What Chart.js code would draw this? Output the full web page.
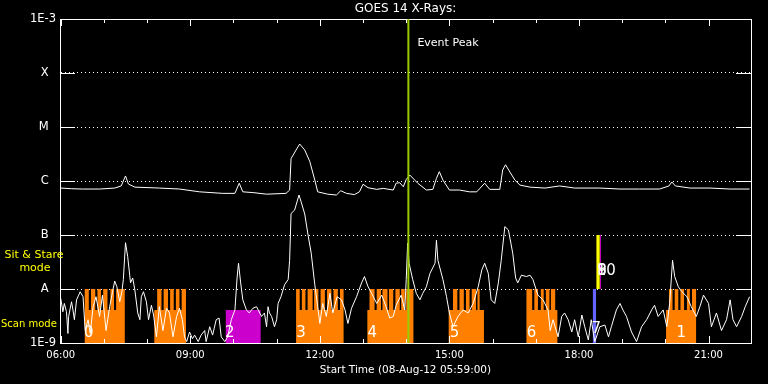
<!DOCTYPE html>
<html>
<head>
<meta charset="utf-8">
<script src="https://cdn.jsdelivr.net/npm/chart.js@4.4.0/dist/chart.umd.min.js"></script>
<style>
  html, body { margin: 0; padding: 0; background: #000; }
  #wrap { width: 768px; height: 384px; }
</style>
</head>
<body>
<div id="wrap"><canvas id="goesChart" width="768" height="384"></canvas></div>
<script>
// axis ranges and tick labels
const xMin = '05:59';
const xMax = '21:59';
const xHourTicks = ['06:00', '07:00', '08:00', '09:00', '10:00', '11:00', '12:00', '13:00',
                    '14:00', '15:00', '16:00', '17:00', '18:00', '19:00', '20:00', '21:00'];
const xTickLabels = ['06:00', '09:00', '12:00', '15:00', '18:00', '21:00'];
const yTickValues = [1e-9, 1e-8, 1e-7, 1e-6, 1e-5, 1e-4, 1e-3];
const yTickLabels = ['1E-9', 'A', 'B', 'C', 'M', 'X', '1E-3'];

// GOES long channel (1-8 A)
const longTimes = ['06:00', '06:15', '06:30', '06:54', '07:15', '07:24', '07:30', '07:34', '07:43', '08:17',
  '08:45', '09:13', '09:45', '10:02', '10:08', '10:13', '10:27', '10:46', '11:13', '11:18',
  '11:20', '11:27', '11:32', '11:39', '11:46', '11:53', '11:57', '12:11', '12:23', '12:29',
  '12:37', '12:48', '12:55', '13:00', '13:07', '13:19', '13:28', '13:42', '13:46', '13:51',
  '13:56', '14:00', '14:05', '14:16', '14:28', '14:37', '14:42', '14:46', '14:51', '15:00',
  '15:14', '15:28', '15:38', '15:49', '15:56', '16:10', '16:14', '16:18', '16:24', '16:31',
  '16:38', '16:52', '17:13', '17:33', '17:54', '18:29', '18:57', '19:24', '19:52', '20:05',
  '20:09', '20:14', '20:34', '21:02', '21:30', '21:57'];
const longFlux = [7.4e-7, 7.2e-7, 7.1e-7, 7.1e-7, 7.4e-7, 8.1e-7, 1.24e-6, 8.8e-7, 7.7e-7, 7.4e-7,
  7.1e-7, 6.3e-7, 5.9e-7, 5.9e-7, 9.1e-7, 6.3e-7, 6.1e-7, 5.7e-7, 5.9e-7, 6.8e-7,
  2.6e-6, 3.75e-6, 4.84e-6, 3.75e-6, 2.3e-6, 1.04e-6, 6.3e-7, 5.7e-7, 5.5e-7, 6.6e-7,
  5.9e-7, 5.6e-7, 6.3e-7, 8.7e-7, 7.5e-7, 7.0e-7, 7.3e-7, 6.8e-7, 9.1e-7, 9.3e-7,
  7.8e-7, 1.07e-6, 1.29e-6, 9.1e-7, 6.8e-7, 7.0e-7, 1.12e-6, 1.49e-6, 1.04e-6, 6.8e-7,
  6.8e-7, 6.3e-7, 6.3e-7, 9.1e-7, 7.0e-7, 7.0e-7, 1.6e-6, 2.0e-6, 1.47e-6, 1.04e-6,
  8.4e-7, 7.7e-7, 7.4e-7, 8.1e-7, 7.4e-7, 7.4e-7, 7.1e-7, 7.1e-7, 7.1e-7, 8.1e-7,
  9.6e-7, 8.1e-7, 7.4e-7, 7.4e-7, 7.1e-7, 7.1e-7];

// GOES short channel (0.5-4 A)
const shortTimes = ['06:00', '06:03', '06:05', '06:08', '06:10', '06:11', '06:15', '06:17', '06:19', '06:22',
  '06:25', '06:27', '06:31', '06:34', '06:38', '06:41', '06:45', '06:49', '06:54', '06:58',
  '07:03', '07:08', '07:12', '07:15', '07:18', '07:22', '07:25', '07:27', '07:30', '07:33',
  '07:37', '07:40', '07:43', '07:47', '07:50', '07:52', '07:55', '07:59', '08:02', '08:06',
  '08:09', '08:13', '08:17', '08:22', '08:27', '08:31', '08:36', '08:41', '08:45', '08:49',
  '08:52', '08:55', '08:59', '09:03', '09:06', '09:11', '09:15', '09:20', '09:22', '09:27',
  '09:31', '09:36', '09:40', '09:43', '09:48', '09:52', '09:57', '10:02', '10:05', '10:07',
  '10:10', '10:13', '10:18', '10:22', '10:27', '10:32', '10:39', '10:43', '10:46', '10:48',
  '10:50', '10:53', '10:57', '11:00', '11:02', '11:06', '11:11', '11:16', '11:18', '11:20',
  '11:25', '11:31', '11:34', '11:39', '11:44', '11:48', '11:53', '11:57', '12:00', '12:04',
  '12:09', '12:14', '12:18', '12:24', '12:30', '12:35', '12:39', '12:44', '12:51', '12:58',
  '13:02', '13:07', '13:12', '13:19', '13:26', '13:32', '13:37', '13:42', '13:46', '13:53',
  '13:58', '14:00', '14:02', '14:04', '14:09', '14:14', '14:19', '14:23', '14:28', '14:33',
  '14:40', '14:42', '14:44', '14:51', '14:56', '15:00', '15:05', '15:12', '15:19', '15:26',
  '15:33', '15:40', '15:45', '15:49', '15:54', '15:58', '16:03', '16:08', '16:12', '16:17',
  '16:22', '16:28', '16:32', '16:35', '16:40', '16:47', '16:52', '16:56', '17:03', '17:10',
  '17:17', '17:20', '17:24', '17:31', '17:36', '17:40', '17:45', '17:50', '17:54', '17:59',
  '18:04', '18:08', '18:13', '18:17', '18:22', '18:29', '18:36', '18:41', '18:45', '18:52',
  '18:57', '19:01', '19:06', '19:13', '19:20', '19:27', '19:34', '19:41', '19:45', '19:50',
  '19:57', '20:02', '20:06', '20:10', '20:13', '20:18', '20:23', '20:30', '20:36', '20:43',
  '20:48', '20:53', '21:00', '21:04', '21:11', '21:18', '21:25', '21:30', '21:34', '21:39',
  '21:46', '21:51', '21:57'];
const shortFlux = [6.7e-9, 3.8e-9, 5.4e-9, 3.8e-9, 1.5e-9, 3.1e-9, 5.8e-9, 4.1e-9, 2.7e-9, 6.3e-9,
  7.7e-9, 8.9e-9, 7.2e-9, 1.7e-9, 2.7e-9, 1.5e-9, 4.7e-9, 7.2e-9, 3.1e-9, 7.7e-9,
  1.7e-9, 4.7e-9, 8.9e-9, 1.4e-8, 1.1e-8, 5.8e-9, 8.9e-9, 1.5e-8, 7.2e-8, 4.0e-8,
  1.3e-8, 1.6e-8, 9.6e-9, 3.6e-9, 2.7e-9, 7.2e-9, 8.9e-9, 5.8e-9, 2.7e-9, 5.0e-9,
  3.3e-9, 1.3e-9, 4.7e-9, 1.7e-9, 4.4e-9, 3.6e-9, 1.3e-9, 3.1e-9, 4.4e-9, 2.7e-9,
  1.3e-9, 1.06e-9, 1.6e-9, 1.2e-9, 1.4e-9, 1.06e-9, 1.4e-9, 1.7e-9, 1.06e-9, 2.0e-9,
  1.4e-9, 2.7e-9, 2.9e-9, 1.3e-9, 1.06e-9, 1.3e-9, 2.7e-9, 4.1e-9, 1.6e-8, 3.0e-8,
  1.3e-8, 6.3e-9, 4.1e-9, 3.6e-9, 4.4e-9, 4.7e-9, 3.1e-9, 3.6e-9, 2.0e-9, 4.7e-9,
  3.6e-9, 3.1e-9, 2.0e-9, 2.7e-9, 5.4e-9, 7.2e-9, 1.2e-8, 1.5e-8, 3.4e-8, 2.5e-7,
  2.9e-7, 5.5e-7, 4.1e-7, 2.45e-7, 9.3e-8, 4.6e-8, 1.2e-8, 4.7e-9, 2.3e-9, 5.4e-9,
  3.1e-9, 8.3e-9, 3.6e-9, 7.2e-9, 6.3e-9, 4.1e-9, 2.3e-9, 4.4e-9, 7.2e-9, 1.3e-8,
  1.7e-8, 1.1e-8, 8.3e-9, 5.4e-9, 7.7e-9, 4.7e-9, 2.9e-9, 3.1e-9, 5.0e-9, 7.7e-9,
  4.1e-9, 1.5e-8, 7.1e-8, 3.0e-8, 1.5e-8, 8.3e-9, 6.3e-9, 8.3e-9, 1.1e-8, 1.95e-8,
  3.0e-8, 8.0e-8, 3.4e-8, 1.5e-8, 7.2e-9, 3.6e-9, 2.0e-9, 3.1e-9, 4.1e-9, 3.6e-9,
  5.4e-9, 1.1e-8, 2.25e-8, 3.0e-8, 1.95e-8, 6.3e-9, 5.4e-9, 1.3e-8, 3.4e-8, 1.43e-7,
  1.24e-7, 4.6e-8, 1.6e-8, 1.3e-8, 1.8e-8, 1.7e-8, 1.8e-8, 1.5e-8, 7.7e-9, 6.3e-9,
  4.1e-9, 1.7e-9, 2.7e-9, 1.3e-9, 3.1e-9, 3.6e-9, 2.7e-9, 1.6e-9, 2.7e-9, 1.3e-9,
  3.3e-9, 2.0e-9, 1.14e-9, 2.7e-9, 1.06e-9, 2.0e-9, 2.15e-9, 1.3e-9, 2.0e-9, 4.1e-9,
  5.4e-9, 4.1e-9, 3.1e-9, 1.6e-9, 1.06e-9, 2.0e-9, 2.7e-9, 4.1e-9, 5.0e-9, 3.1e-9,
  4.1e-9, 2.0e-9, 5.4e-9, 3.4e-8, 1.7e-8, 1.1e-8, 8.9e-9, 7.2e-9, 4.7e-9, 3.1e-9,
  4.7e-9, 7.7e-9, 5.4e-9, 2.0e-9, 3.6e-9, 1.7e-9, 2.7e-9, 6.3e-9, 2.7e-9, 2.0e-9,
  3.1e-9, 4.7e-9, 7.2e-9];

// observing mode levels (off / scan block / scan image)
const OFF = 1e-9;
const SCAN = 4.1e-9;
const IMG = 1e-8;

// scan mode (orange): each level holds until the next time
const scanTimes = [
  '06:33', '06:39', '06:42', '06:48', '06:51', '06:56', '06:59', '07:05', '07:09', '07:14', '07:17', '07:29',
  '08:10', '08:14', '08:20', '08:23', '08:29', '08:32', '08:37', '08:40', '08:45', '08:48', '08:54',
  '11:27', '11:32', '11:35', '11:40', '11:43', '11:50', '11:52', '11:58', '12:01', '12:07', '12:10', '12:16', '12:19', '12:25', '12:28', '12:33',
  '13:06', '13:09', '13:16', '13:19', '13:25', '13:27', '13:34', '13:36', '13:42', '13:45', '13:51', '13:53', '13:58', '14:00', '14:10',
  '14:59', '15:05', '15:11', '15:14', '15:20', '15:23', '15:28', '15:31', '15:37', '15:39', '15:42', '15:48',
  '16:47', '16:55', '16:58', '17:03', '17:07', '17:11', '17:14', '17:19', '17:21', '17:27', '17:30',
  '20:01', '20:05', '20:10', '20:13', '20:18', '20:21', '20:26', '20:30', '20:34', '20:37', '20:43'];
const scanLevels = [
  IMG, SCAN, IMG, SCAN, IMG, SCAN, IMG, SCAN, IMG, SCAN, IMG, OFF,
  SCAN, IMG, SCAN, IMG, SCAN, IMG, SCAN, IMG, SCAN, IMG, OFF,
  IMG, SCAN, IMG, SCAN, IMG, SCAN, IMG, SCAN, IMG, SCAN, IMG, SCAN, IMG, SCAN, IMG, OFF,
  SCAN, IMG, SCAN, IMG, SCAN, IMG, SCAN, IMG, SCAN, IMG, SCAN, IMG, SCAN, IMG, OFF,
  SCAN, IMG, SCAN, IMG, SCAN, IMG, SCAN, IMG, SCAN, IMG, SCAN, OFF,
  IMG, SCAN, IMG, SCAN, IMG, SCAN, IMG, SCAN, IMG, SCAN, OFF,
  SCAN, IMG, SCAN, IMG, SCAN, IMG, SCAN, IMG, SCAN, IMG, OFF];

// other mode (magenta) block
const otherTimes = ['09:49', '10:38'];
const otherLevels = [SCAN, OFF];

// blue scan mark, yellow sit & stare mark, thin magenta mark
const blueTimes = ['18:19', '18:24'];
const blueLevels = [IMG, OFF];
const stareTimes = ['18:24', '18:29'];
const stareLevels = [1e-7, IMG];
const stareMarkTimes = ['18:30', '18:30'];
const stareMarkLevels = [IMG, 1e-7];

const eventPeakTime = '14:03';

// block numbers
const blockLabels = ['0', '2', '3', '4', '5', '6', '7', '8', '9', '10', '1'];
const blockLabelTimes = ['06:39', '09:55', '11:34', '13:13', '15:07', '16:54', '18:24', '18:32', '18:32', '18:38', '20:22'];
const blockLabelLevels = [1.55e-9, 1.55e-9, 1.55e-9, 1.55e-9, 1.55e-9, 1.55e-9, 1.8e-9, 2.1e-8, 2.1e-8, 2.1e-8, 1.55e-9];

function toMin(t) {
  const parts = t.split(':');
  return Number(parts[0]) * 60 + Number(parts[1]);
}
function pts(times, values) {
  return times.map((t, i) => ({ x: toMin(t), y: values[i] }));
}

const majorTicks = xTickLabels.map(toMin);
const hourTicks = xHourTicks.map(toMin);

const overlay = {
  id: 'overlay',
  afterDraw(chart) {
    const { ctx, chartArea: a, scales: { x, y } } = chart;
    ctx.save();
    // inward tick marks
    ctx.strokeStyle = '#ffffff';
    ctx.lineWidth = 1;
    ctx.beginPath();
    yTickValues.slice(1, -1).forEach(v => {
      const py = Math.round(y.getPixelForValue(v)) + 0.5;
      ctx.moveTo(a.left, py); ctx.lineTo(a.left + 15, py);
      ctx.moveTo(a.right - 15, py); ctx.lineTo(a.right, py);
    });
    hourTicks.forEach(v => {
      const px = Math.round(x.getPixelForValue(v)) + 0.5;
      const len = majorTicks.includes(v) ? 7 : 4;
      ctx.moveTo(px, a.top); ctx.lineTo(px, a.top + len);
      ctx.moveTo(px, a.bottom); ctx.lineTo(px, a.bottom - len);
    });
    ctx.stroke();

    // event peak text
    ctx.fillStyle = '#ffffff';
    ctx.font = '11px "DejaVu Sans"';
    ctx.textAlign = 'left';
    ctx.textBaseline = 'middle';
    ctx.fillText('Event Peak', x.getPixelForValue(toMin(eventPeakTime)) + 9, y.getPixelForValue(3.6e-4));

    // block numbers
    ctx.font = '15px "DejaVu Sans"';
    ctx.textAlign = 'center';
    blockLabels.forEach((s, i) => {
      ctx.fillText(s, x.getPixelForValue(toMin(blockLabelTimes[i])), y.getPixelForValue(blockLabelLevels[i]));
    });

    // mode legend on the left
    ctx.fillStyle = '#ffff00';
    ctx.font = '11px "DejaVu Sans"';
    const ys = y.getPixelForValue(3.2e-8);
    ctx.fillText('Sit & Stare', 34, ys - 6.5);
    ctx.fillText('mode', 35, ys + 6.5);
    ctx.font = '10px "DejaVu Sans"';
    ctx.textAlign = 'left';
    ctx.fillText('Scan mode', 1, y.getPixelForValue(2.2e-9));
    ctx.restore();
  }
};

const clear = 'rgba(0,0,0,0)';

new Chart(document.getElementById('goesChart').getContext('2d'), {
  type: 'line',
  data: {
    datasets: [
      {
        label: 'Event Peak',
        data: pts([eventPeakTime, eventPeakTime], [1e-9, 1e-3]),
        borderColor: '#99cc00', borderWidth: 2, pointRadius: 0
      },
      {
        label: 'Long',
        data: pts(longTimes, longFlux),
        borderColor: '#ffffff', borderWidth: 1, pointRadius: 0
      },
      {
        label: 'Short',
        data: pts(shortTimes, shortFlux),
        borderColor: '#ffffff', borderWidth: 1, pointRadius: 0
      },
      {
        label: 'Stare mark',
        data: pts(stareMarkTimes, stareMarkLevels),
        borderColor: '#cc00cc', borderWidth: 1, pointRadius: 0
      },
      {
        label: 'Sit & Stare',
        data: pts(stareTimes, stareLevels),
        stepped: 'before', fill: { value: IMG },
        backgroundColor: '#ffff00', borderColor: clear, borderWidth: 0, pointRadius: 0
      },
      {
        label: 'Scan mark',
        data: pts(blueTimes, blueLevels),
        stepped: 'before', fill: 'start',
        backgroundColor: '#6464ff', borderColor: clear, borderWidth: 0, pointRadius: 0
      },
      {
        label: 'Other',
        data: pts(otherTimes, otherLevels),
        stepped: 'before', fill: 'start',
        backgroundColor: '#cc00cc', borderColor: clear, borderWidth: 0, pointRadius: 0
      },
      {
        label: 'Scan',
        data: pts(scanTimes, scanLevels),
        stepped: 'before', fill: 'start',
        backgroundColor: '#ff8000', borderColor: clear, borderWidth: 0, pointRadius: 0
      }
    ]
  },
  options: {
    responsive: false,
    animation: false,
    devicePixelRatio: 1,
    events: [],
    layout: { padding: 0 },
    plugins: { legend: { display: false }, tooltip: { enabled: false } },
    scales: {
      x: {
        type: 'linear', position: 'bottom', z: 1,
        min: toMin(xMin), max: toMin(xMax),
        afterBuildTicks: s => { s.ticks = hourTicks.map(v => ({ value: v })); },
        afterFit: s => { s.height = 41; },
        grid: { drawOnChartArea: false, drawTicks: false },
        border: { color: '#ffffff', width: 1 },
        ticks: {
          autoSkip: false, maxRotation: 0, padding: 6, color: '#ffffff',
          font: { family: 'DejaVu Sans', size: 10 },
          callback: v => {
            const i = majorTicks.indexOf(v);
            return i >= 0 ? xTickLabels[i] : '';
          }
        },
        title: {
          display: true, text: 'Start Time (08-Aug-12 05:59:00)', color: '#ffffff',
          font: { family: 'DejaVu Sans', size: 10.5 }, padding: { top: 0, bottom: 7 }
        }
      },
      x2: {
        type: 'linear', position: 'top', z: 1,
        min: toMin(xMin), max: toMin(xMax),
        afterFit: s => { s.height = 19; },
        grid: { drawOnChartArea: false, drawTicks: false },
        border: { color: '#ffffff', width: 1 },
        ticks: { display: false },
        title: {
          display: true, text: 'GOES 14 X-Rays:', color: '#ffffff',
          font: { family: 'DejaVu Sans', size: 12 }, padding: { top: 2, bottom: 0 }
        }
      },
      y: {
        type: 'logarithmic', position: 'left', z: 1,
        min: 1e-9, max: 1e-3,
        afterBuildTicks: s => { s.ticks = yTickValues.map(v => ({ value: v })); },
        afterFit: s => { s.width = 60; },
        grid: { color: '#ffffff', lineWidth: 1, drawTicks: false },
        border: { color: '#ffffff', width: 1, dash: [1, 3] },
        ticks: {
          padding: 4, color: '#ffffff',
          font: { family: 'DejaVu Sans', size: 11.5 },
          callback: v => {
            const s = yTickLabels[yTickValues.indexOf(v)];
            return s.length === 1 ? s + '  ' : s;
          }
        }
      },
      y2: {
        type: 'logarithmic', position: 'right', z: 1,
        min: 1e-9, max: 1e-3,
        afterFit: s => { s.width = 17; },
        grid: { drawOnChartArea: false, drawTicks: false },
        border: { color: '#ffffff', width: 1 },
        ticks: { display: false }
      }
    }
  },
  plugins: [overlay]
});
</script>
</body>
</html>
